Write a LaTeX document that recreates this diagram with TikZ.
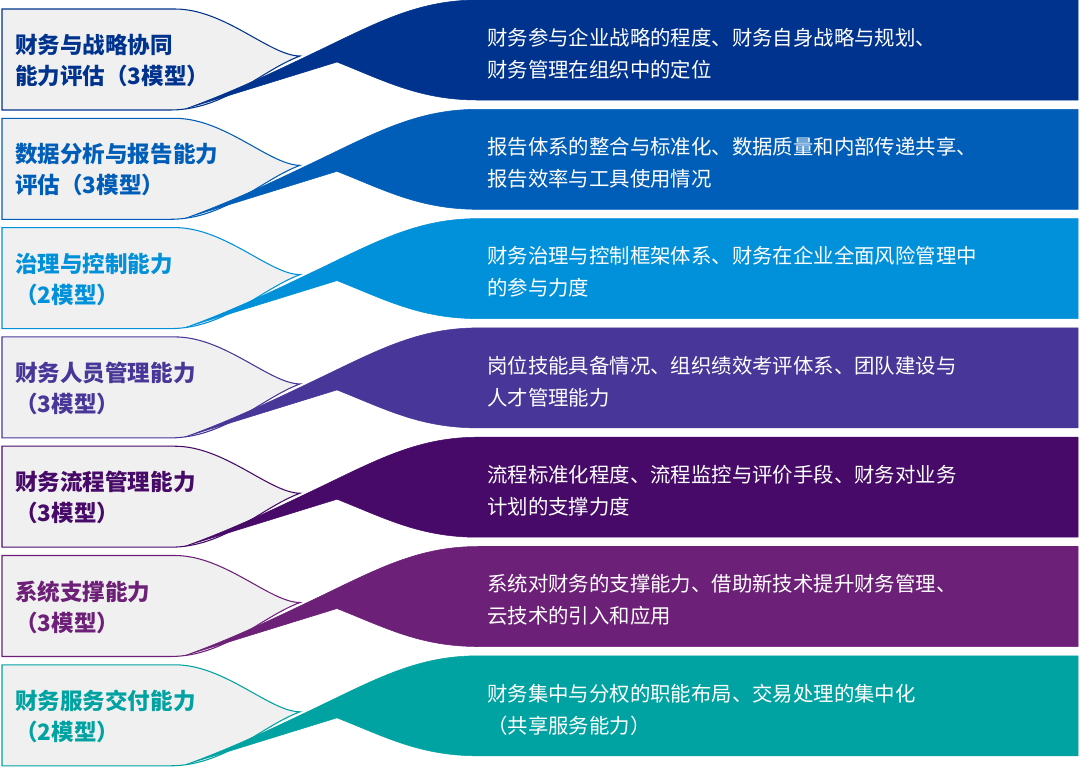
\documentclass[tikz,border=0pt]{standalone}
\usepackage{fontspec}
\setmainfont{Noto Sans CJK SC}
\definecolor{cNavy}{HTML}{00338D}
\definecolor{cCobalt}{HTML}{005EB8}
\definecolor{cSky}{HTML}{0091DA}
\definecolor{cIris}{HTML}{483698}
\definecolor{cPlum}{HTML}{470A68}
\definecolor{cOrchid}{HTML}{6D2077}
\definecolor{cTeal}{HTML}{00A3A1}
\definecolor{tabgray}{HTML}{F0F0F0}

\begin{document}
\begin{tikzpicture}[
  x=0.75pt, y=-0.75pt,
  tab/.style  ={fill=tabgray, line width=0.8pt},
  band/.style ={line width=0.4pt},
  head/.style ={anchor=west, align=left, inner sep=0pt,
                font=\bfseries\fontsize{16.9}{23.25}\selectfont},
  desc/.style ={anchor=west, align=left, inner sep=0pt, text=white,
                font=\fontsize{15.3}{24}\selectfont},
]
\useasboundingbox (0,0) rectangle (1080,769);

% ---------------- tabs and ribbons (one per row) ----------------
\foreach \i/\c in {0/cNavy,1/cCobalt,2/cSky,3/cIris,4/cPlum,5/cOrchid,6/cTeal}{
  \pgfmathsetmacro\t{9+109.3*\i}
  \begin{scope}[shift={(0,\t)}]
    \draw[tab, draw=\c] (2,0) -- (175,0) .. controls (225,0) and (270,47) .. (300,47)
      .. controls (260,62) and (225,101) .. (170,101) -- (2,101) -- cycle;
    \filldraw[band, fill=\c, draw=\c] (185,100) .. controls (235,82) and (280,60) .. (322,40)
      .. controls (380,12) and (420,-9) .. (478,-9) -- (1078,-9) -- (1078,91) -- (478,91)
      .. controls (420,91) and (385,72) .. (337,53) -- cycle;
  \end{scope}
}

% ---------------- capabilities (left) ----------------
\node[head, text=cNavy]   (cap1) at (15,60.5)  {财务与战略协同\\能力评估（3模型）};
\node[head, text=cCobalt] (cap2) at (15,169.8) {数据分析与报告能力\\评估（3模型）};
\node[head, text=cSky]    (cap3) at (15,279.1) {治理与控制能力\\（2模型）};
\node[head, text=cIris]   (cap4) at (15,388.4) {财务人员管理能力\\（3模型）};
\node[head, text=cPlum]   (cap5) at (15,497.7) {财务流程管理能力\\（3模型）};
\node[head, text=cOrchid] (cap6) at (15,607)   {系统支撑能力\\（3模型）};
\node[head, text=cTeal]   (cap7) at (15,716.3) {财务服务交付能力\\（2模型）};

% ---------------- descriptions (right) ----------------
\node[desc] (txt1) at (487,53.5)  {财务参与企业战略的程度、财务自身战略与规划、\\财务管理在组织中的定位};
\node[desc] (txt2) at (487,162.8) {报告体系的整合与标准化、数据质量和内部传递共享、\\报告效率与工具使用情况};
\node[desc] (txt3) at (487,272.1) {财务治理与控制框架体系、财务在企业全面风险管理中\\的参与力度};
\node[desc] (txt4) at (487,381.4) {岗位技能具备情况、组织绩效考评体系、团队建设与\\人才管理能力};
\node[desc] (txt5) at (487,490.7) {流程标准化程度、流程监控与评价手段、财务对业务\\计划的支撑力度};
\node[desc] (txt6) at (487,600)   {系统对财务的支撑能力、借助新技术提升财务管理、\\云技术的引入和应用};
\node[desc] (txt7) at (487,709.3) {财务集中与分权的职能布局、交易处理的集中化\\（共享服务能力）};

\end{tikzpicture}
\end{document}
